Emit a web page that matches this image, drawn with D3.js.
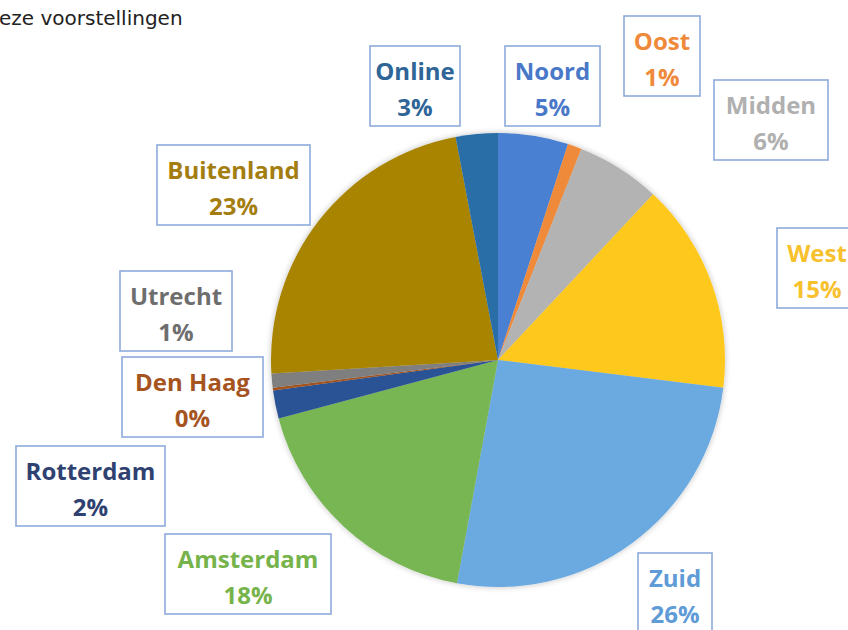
<!DOCTYPE html>
<html lang="nl">
<head>
    <meta charset="UTF-8">
    <title>Herkomst bezoekers</title>
    <script src="https://d3js.org/d3.v7.min.js"></script>
    <style>
        body {
            margin: 0;
            background: #fff;
            overflow: hidden;
        }

        .title {
            font-family: "DejaVu Sans", sans-serif;
            font-size: 20px;
            fill: #222;
        }

        .lbl {
            font-family: "Open Sans", Lato, sans-serif;
            font-weight: bold;
            font-size: 24px;
            text-anchor: middle;
        }

        .box {
            fill: #fff;
            stroke: #8eaadb;
            stroke-width: 1.6px;
        }
    </style>
</head>
<body>
    <svg width="848" height="630"></svg>

    <script>
        // data, clockwise from 12 o'clock
        var regions = ["Noord", "Oost", "Midden", "West", "Zuid", "Amsterdam", "Rotterdam", "Den Haag", "Utrecht", "Buitenland", "Online"];
        var shares = [5, 1, 6, 15, 26, 18, 2, 0.2, 1, 23, 3];
        var sliceColors = ["#4a80d1", "#ef8a3a", "#b3b3b3", "#ffc81a", "#6aaae0", "#78b552", "#2b5296", "#a4531c", "#7f7f7f", "#a88400", "#2c6ea8"];
        var textColors = ["#4a78c8", "#ef8a3a", "#b0b0b0", "#f7c12e", "#5f9bd6", "#76b34a", "#2e4170", "#a6541f", "#6e6e6e", "#a47d10", "#2f6597"];

        // label box layout (x, y of box, width)
        var boxes = {
            "Noord":      [505, 46, 95],
            "Oost":       [624, 16, 76],
            "Midden":     [714, 80, 114],
            "West":       [777, 228, 80],
            "Zuid":       [638, 553, 74],
            "Amsterdam":  [165, 534, 166],
            "Rotterdam":  [16, 446, 149],
            "Den Haag":   [122, 357, 141],
            "Utrecht":    [120, 271, 112],
            "Buitenland": [157, 145, 153],
            "Online":     [370, 46, 90]
        };

        var width = 848, height = 630;
        var cx = 498, cy = 360, radius = 227;

        var svg = d3.select("svg");

        var defs = svg.append("defs");
        var shadow = defs.append("filter").attr("id", "soft")
            .attr("x", "-10%").attr("y", "-10%").attr("width", "120%").attr("height", "120%");
        shadow.append("feGaussianBlur").attr("in", "SourceAlpha").attr("stdDeviation", 3);
        shadow.append("feComponentTransfer").append("feFuncA").attr("type", "linear").attr("slope", 0.25);
        var merge = shadow.append("feMerge");
        merge.append("feMergeNode");
        merge.append("feMergeNode").attr("in", "SourceGraphic");

        svg.append("text")
            .attr("class", "title")
            .attr("x", -1)
            .attr("y", 25)
            .text("eze voorstellingen");

        var table = regions.map(function(r, i) {
            return { name: r, value: shares[i], color: sliceColors[i], text: textColors[i] };
        });

        var pie = d3.pie()
            .sort(null)
            .value(function(d) { return d.value; });

        var arc = d3.arc()
            .innerRadius(0)
            .outerRadius(radius);

        var g = svg.append("g")
            .attr("transform", "translate(" + cx + "," + cy + ")")
            .attr("filter", "url(#soft)");

        g.selectAll("path")
            .data(pie(table))
            .enter().append("path")
            .attr("d", arc)
            .attr("fill", function(d) { return d.data.color; });

        // labels in boxes
        var lbl = svg.append("g")
            .selectAll("g")
            .data(table)
            .enter().append("g")
            .attr("transform", function(d) {
                var b = boxes[d.name];
                return "translate(" + b[0] + "," + b[1] + ")";
            });

        lbl.append("rect")
            .attr("class", "box")
            .attr("width", function(d) { return boxes[d.name][2]; })
            .attr("height", 80);

        lbl.append("text")
            .attr("class", "lbl")
            .attr("x", function(d) { return boxes[d.name][2] / 2; })
            .attr("y", 34)
            .attr("fill", function(d) { return d.text; })
            .text(function(d) { return d.name; });

        lbl.append("text")
            .attr("class", "lbl")
            .attr("x", function(d) { return boxes[d.name][2] / 2; })
            .attr("y", 70)
            .attr("fill", function(d) { return d.text; })
            .text(function(d) { return Math.round(d.value) + "%"; });
    </script>
</body>
</html>
